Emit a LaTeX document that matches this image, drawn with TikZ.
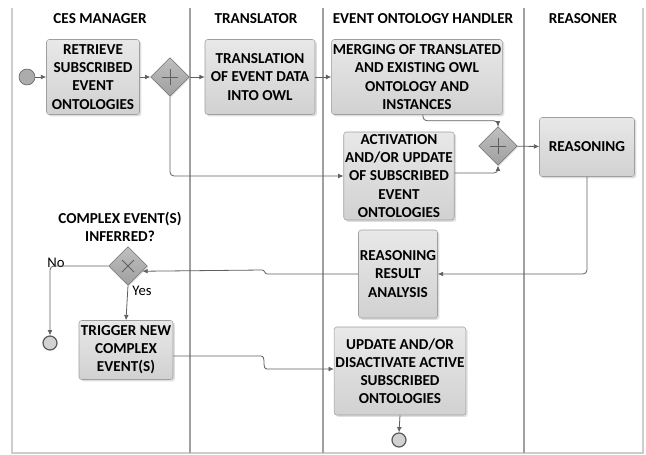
\documentclass[tikz,border=0pt]{standalone}
\usepackage{fontspec}
\setmainfont{Carlito}
\usepackage{tikz}
\usetikzlibrary{shapes.geometric,arrows.meta,shadows,calc}

\definecolor{lanegray}{RGB}{160,160,160}
\definecolor{framegray}{RGB}{205,205,205}
\definecolor{linegray}{RGB}{95,95,95}

\tikzset{
  task/.style={draw=gray!75, rounded corners=2pt, top color=gray!18, bottom color=gray!36,
    drop shadow={shadow xshift=1.4pt, shadow yshift=-1.4pt, fill=gray!50},
    inner sep=1pt, align=center, font=\fontsize{11.4}{13.6}\selectfont\bfseries},
  gate/.style={diamond, draw=gray!85!black, top color=gray!50, bottom color=gray!75,
    minimum size=29pt, inner sep=0pt,
    drop shadow={shadow xshift=0.8pt, shadow yshift=-0.8pt, fill=gray!40}},
  plusgate/.style={gate, path picture={
    \draw[linegray, line width=0.6pt] ([xshift=-6pt]path picture bounding box.center) -- ([xshift=6pt]path picture bounding box.center)
      ([yshift=-6pt]path picture bounding box.center) -- ([yshift=6pt]path picture bounding box.center);}},
  xgate/.style={gate, path picture={
    \draw[linegray, line width=0.6pt] ([shift={(-4.5pt,-4.5pt)}]path picture bounding box.center) -- ([shift={(4.5pt,4.5pt)}]path picture bounding box.center)
      ([shift={(-4.5pt,4.5pt)}]path picture bounding box.center) -- ([shift={(4.5pt,-4.5pt)}]path picture bounding box.center);}},
  startev/.style={circle, draw=gray!70!black, fill=gray!65, minimum size=12pt, inner sep=0pt},
  endev/.style={circle, draw=gray!70!black, line width=0.9pt, fill=gray!35, minimum size=10.5pt, inner sep=0pt},
  flow/.style={draw=linegray, line width=0.6pt, -{Latex[length=4pt,width=3.6pt]}},
  lane/.style={draw=lanegray, line width=0.8pt},
  head/.style={font=\fontsize{11.4}{13.6}\selectfont\bfseries},
  lbl/.style={font=\fontsize{11}{13}\selectfont}
}

\begin{document}
\begin{tikzpicture}[x=0.75pt,y=0.75pt,yscale=-1,xscale=1]
\useasboundingbox (0,0) rectangle (646,454);

%Lanes
\draw[framegray, line width=1.5pt] (12,8) -- (12,453) -- (643,453) -- (643,8);
\draw[lane] (190,8) -- (190,453);
\draw[lane] (323,8) -- (323,453);
\draw[lane] (524,8) -- (524,453);

% Text Node
\draw (100,19) node [head] {CES MANAGER};
% Text Node
\draw (256,19) node [head] {TRANSLATOR};
% Text Node
\draw (423,19) node [head] {EVENT ONTOLOGY HANDLER};
% Text Node
\draw (583,19) node [head] {REASONER};

%Shape: Circle
\node[startev] (start) at (27,77) {};
%Shape: Rectangle
\node[task, minimum width=69.75pt, minimum height=56.25pt] (retrieve) at (93,77) {RETRIEVE\\SUBSCRIBED\\EVENT\\ONTOLOGIES};
%Shape: Diamond
\node[plusgate] (fork) at (170,77) {};
%Shape: Rectangle
\node[task, minimum width=82.5pt, minimum height=56.25pt] (translate) at (260,77) {TRANSLATION\\OF EVENT DATA\\INTO OWL};
%Shape: Rectangle
\node[task, minimum width=126.75pt, minimum height=56.25pt] (merge) at (417,77) {MERGING OF TRANSLATED\\AND EXISTING OWL\\ONTOLOGY AND\\INSTANCES};
%Shape: Rectangle
\node[task, minimum width=81pt, minimum height=66pt] (activate) at (399,176) {ACTIVATION\\AND/OR UPDATE\\OF SUBSCRIBED\\EVENT\\ONTOLOGIES};
%Shape: Diamond
\node[plusgate] (join) at (498,146) {};
%Shape: Rectangle
\node[task, minimum width=71.25pt, minimum height=44.25pt] (reason) at (587,147) {REASONING};
%Shape: Rectangle
\node[task, minimum width=59.25pt, minimum height=66pt] (analysis) at (398,274) {REASONING\\RESULT\\ANALYSIS};
%Shape: Diamond
\node[xgate] (decide) at (128,266) {};
%Shape: Circle
\node[endev] (endno) at (50,343) {};
%Shape: Rectangle
\node[task, minimum width=70.5pt, minimum height=44.25pt] (trigger) at (126,350) {TRIGGER NEW\\COMPLEX\\EVENT(S)};
%Shape: Rectangle
\node[task, minimum width=93pt, minimum height=66pt] (update) at (400,371) {UPDATE AND/OR\\DISACTIVATE ACTIVE\\SUBSCRIBED\\ONTOLOGIES};
%Shape: Circle
\node[endev] (endyes) at (399,440) {};

% Text Node
\draw (120,227) node [head, align=center] {COMPLEX EVENT(S)\\INFERRED?};
% Text Node
\node[lbl] (no) at (56,263) {No};
% Text Node
\node[lbl] (yes) at (142,291) {Yes};

%Straight Lines
\draw[flow] (start) -- (retrieve);
\draw[flow] (retrieve) -- (fork);
\draw[flow] (fork) -- (translate);
\draw[flow] (translate) -- (merge);
\draw[flow, rounded corners=3pt] (fork.south) |- (activate.west);
\draw[flow, rounded corners=3pt] ($(merge.south)+(6,0)$) -- ++(0,6) -| (join.north);
\draw[flow, rounded corners=3pt] ($(activate.east)+(0,-3)$) -| (join.south);
\draw[flow] (join) -- (reason);
\draw[flow, rounded corners=3pt] (reason.south) |- (analysis.east);
\draw[flow] (analysis.west) -- ++(-91,0) to[out=180,in=0] ++(-5,-4) -- (decide.-20);
\draw[flow, rounded corners=3pt] (decide.west) -| (endno.north);
\draw[flow] (decide.south) -- (trigger.north);
\draw[flow] ($(trigger.east)+(0,6)$) -- (261,356) to[out=0,in=180] (267,369) -- ($(update.west)+(0,-2)$);
\draw[flow] (update.south) -- (endyes.north);
\end{tikzpicture}
\end{document}
